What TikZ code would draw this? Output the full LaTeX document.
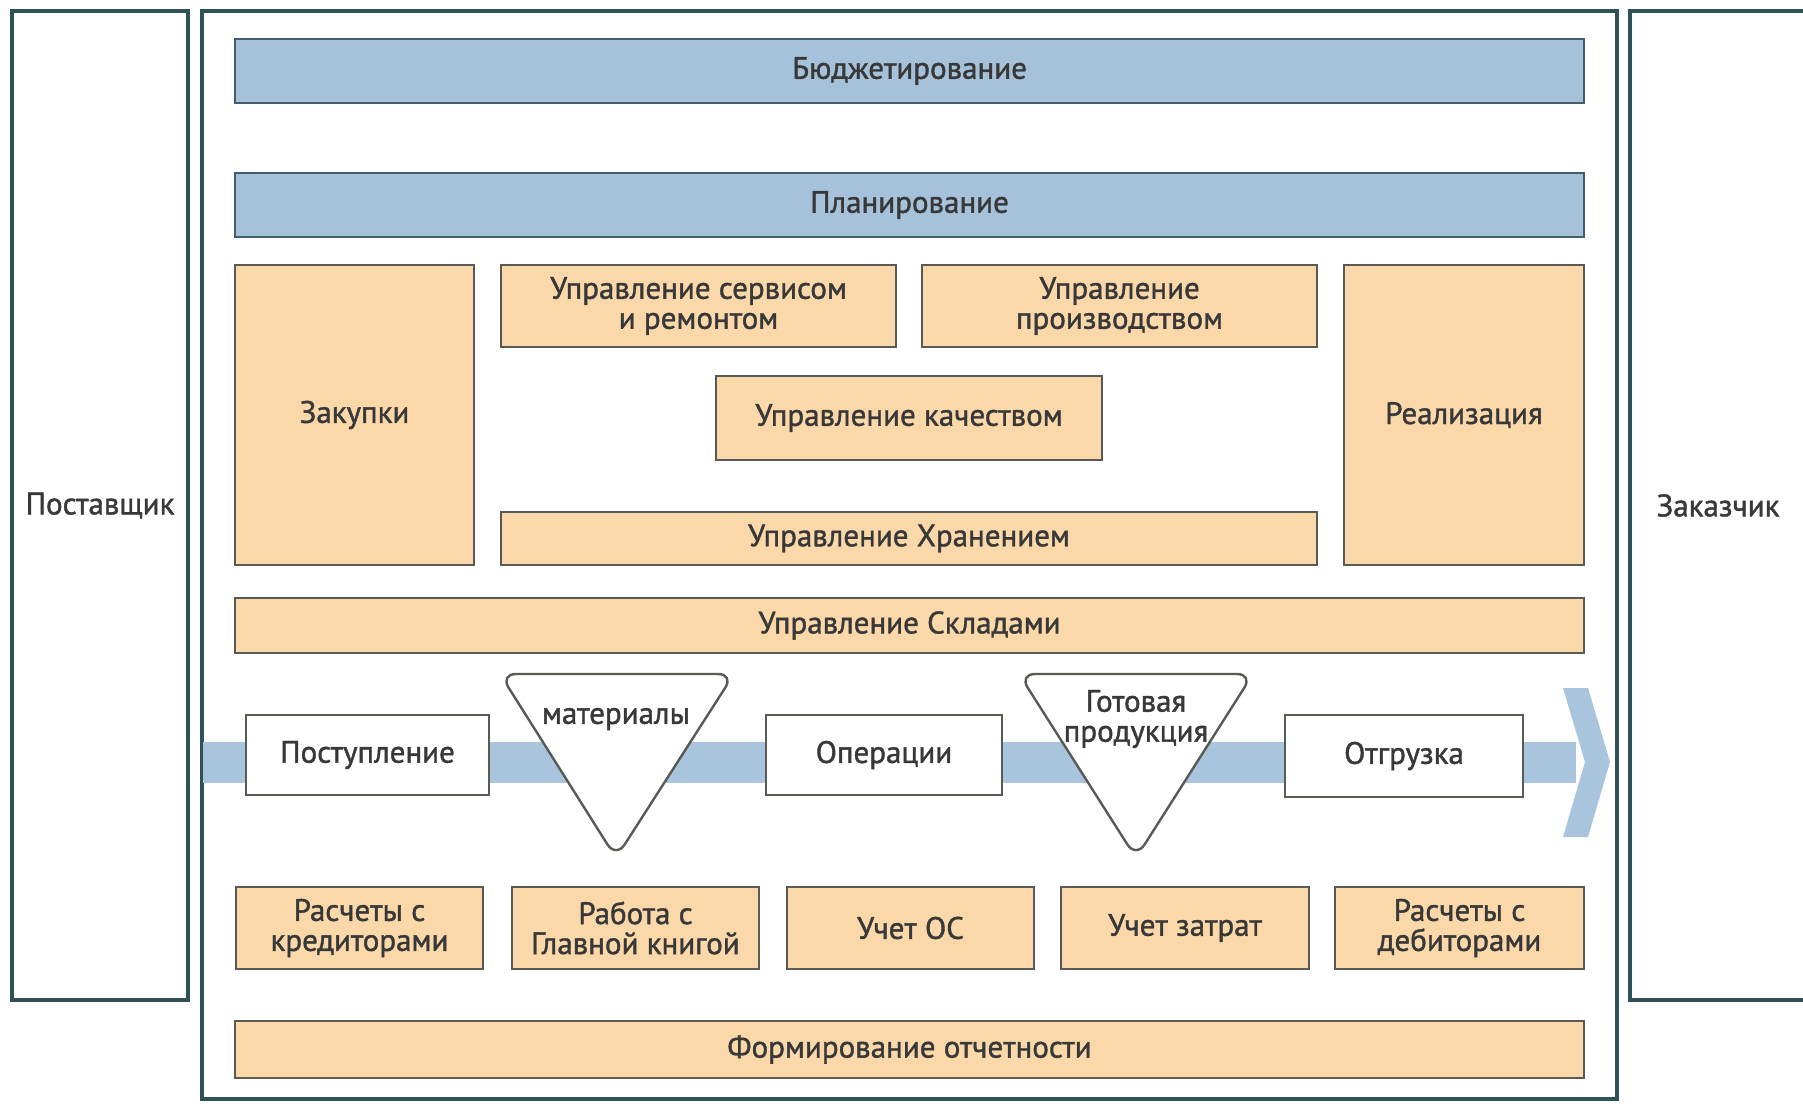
\documentclass[tikz,border=0pt]{standalone}
\usepackage{fontspec}
\setmainfont{PT Sans}[BoldFont={PT Sans},BoldFeatures={FakeBold=1.3}]
\usetikzlibrary{fit}
\definecolor{outerc}{HTML}{2E5257}
\definecolor{bluefill}{HTML}{A5C2DA}
\definecolor{bluedraw}{HTML}{425E6B}
\definecolor{orfill}{HTML}{FAD8A9}
\definecolor{grayd}{HTML}{5A5A55}
\definecolor{bandc}{HTML}{A8C5DD}
\definecolor{txt}{HTML}{383838}
\begin{document}
\begin{tikzpicture}[x=0.5pt,y=-0.5pt,
  every node/.style={font=\fontsize{15.5}{15}\selectfont\bfseries, text=txt},
  outerbox/.style={draw=outerc, line width=2pt, fill=white, inner sep=0pt},
  bluebar/.style={draw=bluedraw, line width=1.2pt, fill=bluefill, inner sep=0pt},
  orbox/.style={draw=grayd, line width=1.2pt, fill=orfill, inner sep=0pt},
  whbox/.style={draw=grayd, line width=1.2pt, fill=white, inner sep=0pt},
  tri/.style={draw=grayd, line width=1.2pt, fill=white, rounded corners=8pt},
  band/.style={fill=bandc},
  txtc/.style={label={[align=center]center:{#1}}}]
\useasboundingbox (0,0) rectangle (1803,1103);
\fill[white] (0,0) rectangle (1803,1103);
% outer frames
\node[outerbox, fit={(12,11) (188,1000)}, txtc={Поставщик}] (supplier) {};
\node[outerbox, fit={(202,11) (1617,1099)}] (main) {};
\node[outerbox, fit={(1630,11) (1806,1000)}, txtc={Заказчик}] (customer) {};
% top bars
\node[bluebar, fit={(235,39) (1584,103)}, txtc={Бюджетирование}] (budget) {};
\node[bluebar, fit={(235,173) (1584,237)}, txtc={Планирование}] (plan) {};
% middle block
\node[orbox, fit={(235,265) (474,565)}, txtc={Закупки}] (purchase) {};
\node[orbox, fit={(501,265) (896,347)}, txtc={Управление сервисом\\и ремонтом}] (service) {};
\node[orbox, fit={(922,265) (1317,347)}, txtc={Управление\\производством}] (production) {};
\node[orbox, fit={(716,376) (1102,460)}, txtc={Управление качеством}] (quality) {};
\node[orbox, fit={(1344,265) (1584,565)}, txtc={Реализация}] (sales) {};
\node[orbox, fit={(501,512) (1317,565)}, txtc={Управление Хранением}] (storage) {};
\node[orbox, fit={(235,598) (1584,653)}, txtc={Управление Складами}] (warehouses) {};
% flow band
\coordinate (bandstart) at (203,762);
\coordinate (bandend) at (1576,762);
\fill[band] (203,742) rectangle (1576,783);
\fill[band] (1563,688) -- (1588,688) -- (1610,762) -- (1588,837) -- (1563,837) -- (1585,762) -- cycle;
% flow nodes
\node[whbox, fit={(246,715) (489,795)}, txtc={Поступление}] (receipt) {};
\draw[tri] (500,674) -- (734,674) -- (616,858) -- cycle;
\node (materials) at (616,719) {материалы};
\node[whbox, fit={(766,715) (1002,795)}, txtc={Операции}] (operations) {};
\draw[tri] (1019,674) -- (1253,674) -- (1136,858) -- cycle;
\node[align=center] (goods) at (1136,719) {Готовая\\продукция};
\node[whbox, fit={(1285,715) (1523,797)}, txtc={Отгрузка}] (shipment) {};
% accounting row
\node[orbox, fit={(236,887) (483,969)}, txtc={Расчеты с\\кредиторами}] (creditors) {};
\node[orbox, fit={(512,887) (759,969)}, txtc={Работа с\\Главной книгой}] (ledger) {};
\node[orbox, fit={(787,887) (1034,969)}, txtc={Учет ОС}] (assets) {};
\node[orbox, fit={(1061,887) (1309,969)}, txtc={Учет затрат}] (costs) {};
\node[orbox, fit={(1335,887) (1584,969)}, txtc={Расчеты с\\дебиторами}] (debtors) {};
% reporting
\node[orbox, fit={(235,1021) (1584,1078)}, txtc={Формирование отчетности}] (reports) {};
\end{tikzpicture}
\end{document}
